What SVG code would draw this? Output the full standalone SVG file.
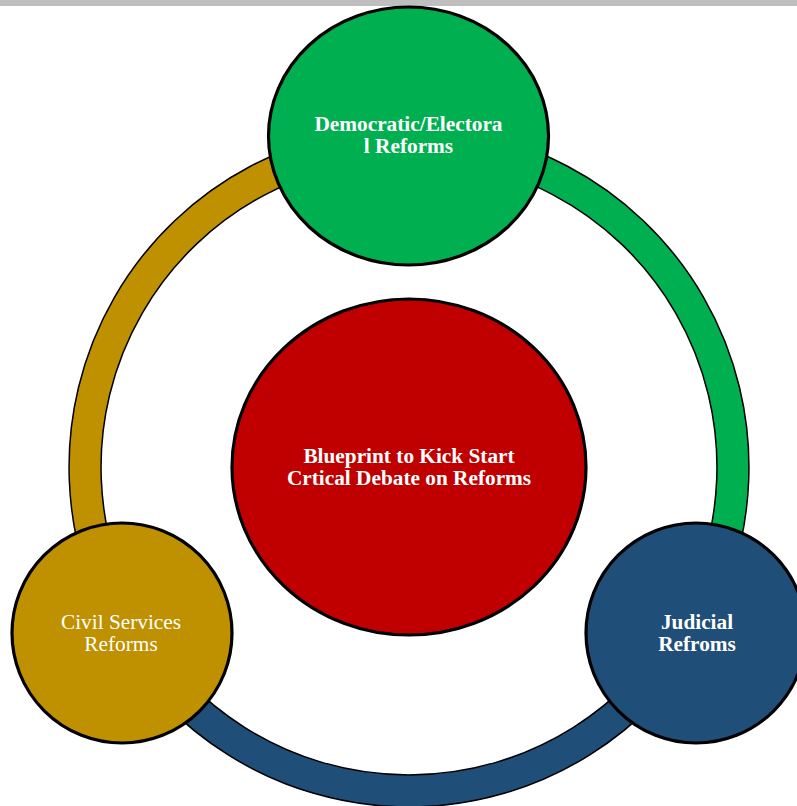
<svg xmlns="http://www.w3.org/2000/svg" width="797" height="806" viewBox="0 0 797 806">
<style>
.seg{stroke:#000;stroke-width:1.5}
.node{stroke:#000;stroke-width:3.2}
.t{font-family:"Liberation Serif","Times New Roman",serif;font-size:21.3px;fill:#fff;text-anchor:middle}
.b{font-weight:bold}
</style>
<rect x="0" y="0" width="797" height="6" fill="#bfbfbf"/>
<g id="connectors">
<path class="seg" fill="#00b050" d="M 409 127 A 340 340 0 0 1 703.4 637 L 675.7 621 A 308 308 0 0 0 409 159 Z"/>
<path class="seg" fill="#1f4e79" d="M 703.4 637 A 340 340 0 0 1 114.6 637 L 142.3 621 A 308 308 0 0 0 675.7 621 Z"/>
<path class="seg" fill="#bf9000" d="M 114.6 637 A 340 340 0 0 1 409 127 L 409 159 A 308 308 0 0 0 142.3 621 Z"/>
</g>
<g id="center">
<ellipse class="node" cx="409" cy="467" rx="177" ry="168" fill="#c00000"/>
<text class="t b" x="409" y="463">Blueprint to Kick Start</text>
<text class="t b" x="409" y="485">Crtical Debate on Reforms</text>
</g>
<g id="democratic">
<ellipse class="node" cx="408.5" cy="136" rx="140" ry="129" fill="#00b050"/>
<text class="t b" x="408.5" y="131">Democratic/Electora</text>
<text class="t b" x="408.5" y="153">l Reforms</text>
</g>
<g id="civil">
<circle class="node" cx="122" cy="633" r="110" fill="#bf9000"/>
<text class="t" x="121" y="629">Civil Services</text>
<text class="t" x="121" y="651">Reforms</text>
</g>
<g id="judicial">
<circle class="node" cx="696" cy="633" r="110" fill="#1f4e79"/>
<text class="t b" x="697" y="629">Judicial</text>
<text class="t b" x="697" y="651">Refroms</text>
</g>
</svg>
